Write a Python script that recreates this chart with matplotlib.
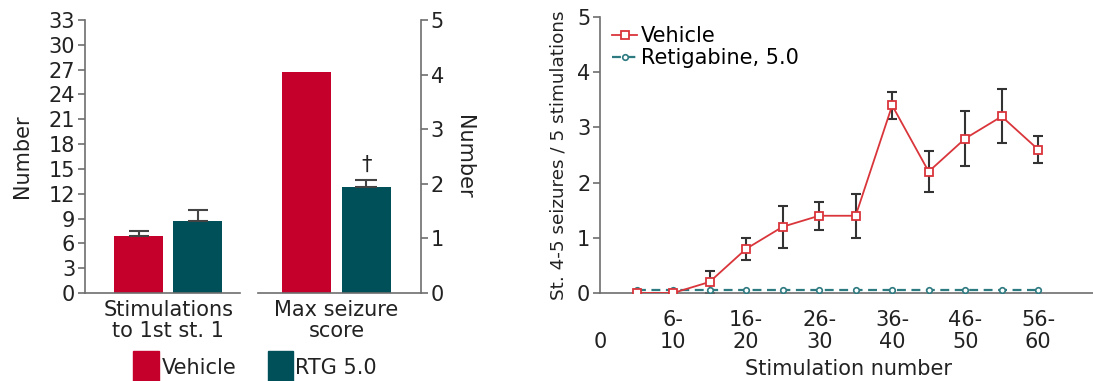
import matplotlib
matplotlib.use('Agg')
import matplotlib.pyplot as plt
from matplotlib.patches import Rectangle

plt.rcParams['font.family'] = ['DejaVu Sans']

# bar panel data
bar_groups = ['Stimulations\nto 1st st. 1', 'Max seizure\nscore']
stim_vals = [6.9, 8.7]
stim_errs = [0.6, 1.3]
score_vals = [4.05, 1.95]
score_errs = [0.0, 0.12]
bar_names = ['Vehicle', 'RTG 5.0']

# line panel data
stim_x = [1, 2, 3, 4, 5, 6, 7, 8, 9, 10, 11, 12]
vehicle_y = [0, 0, 0.2, 0.8, 1.2, 1.4, 1.4, 3.4, 2.2, 2.8, 3.2, 2.6]
vehicle_err = [0, 0, 0.2, 0.2, 0.38, 0.25, 0.4, 0.24, 0.37, 0.49, 0.49, 0.24]
rtg_y = [0.05] * 12
x_ticks = [0, 2, 4, 6, 8, 10, 12]
x_labels = ['\n0', '6-\n10', '16-\n20', '26-\n30', '36-\n40', '46-\n50', '56-\n60']

red_bar = '#c4002b'
teal_bar = '#00505a'
red_line = '#d9353a'
teal_line = '#2d7a80'
spine_col = '#6e6e6e'
txt = '#222222'
fs = 15

fig = plt.figure(figsize=(10.93, 3.81), dpi=100)

ax1 = fig.add_axes([0.0778, 0.231, 0.1418, 0.7165])
ax2 = fig.add_axes([0.236, 0.231, 0.149, 0.7165])
ax3 = fig.add_axes([0.549, 0.231, 0.455, 0.724])

cols = [red_bar, teal_bar]
for i in range(2):
    ax1.bar(i, stim_vals[i], width=0.83, color=cols[i])
    ax1.errorbar(i, stim_vals[i], yerr=[[0], [stim_errs[i]]], fmt='none',
                 ecolor='#444444', elinewidth=1.5, capsize=7, capthick=1.5)
    ax2.bar(i, score_vals[i], width=0.82, color=cols[i])
    if score_errs[i] > 0:
        ax2.errorbar(i, score_vals[i], yerr=[[0], [score_errs[i]]], fmt='none',
                     ecolor='#444444', elinewidth=1.5, capsize=8, capthick=1.5)

ax2.text(1, score_vals[1] + score_errs[1] + 0.1, '\u2020', ha='center',
         va='bottom', fontsize=fs, color=txt)

ax1.set_xlim(-0.91, 1.72)
ax1.set_ylim(0, 33)
ax1.set_yticks(range(0, 34, 3))
ax2.set_xlim(-0.81, 1.91)
ax2.set_ylim(0, 5)
ax2.set_yticks(range(0, 6))

for ax in (ax1, ax2):
    for s in ax.spines.values():
        s.set_color(spine_col)
        s.set_linewidth(1.2)
    ax.spines['top'].set_visible(False)
    ax.set_xticks([0.5])
    ax.tick_params(axis='x', length=0, pad=5, labelsize=fs, colors=txt)
    ax.tick_params(axis='y', direction='out', length=5, width=1.2,
                   color=spine_col, labelsize=fs, labelcolor=txt, pad=2)

ax1.spines['right'].set_visible(False)
ax1.set_xticklabels([bar_groups[0]], linespacing=1.05)
ax1.set_ylabel('Number', fontsize=fs, color=txt, labelpad=12)

ax2.spines['left'].set_visible(False)
ax2.yaxis.tick_right()
ax2.yaxis.set_label_position('right')
ax2.set_xticklabels([bar_groups[1]], linespacing=1.05)
ax2.set_ylabel('Number', fontsize=fs, color=txt, rotation=270, labelpad=22)

# legend squares for the bar panel
fig.patches.append(Rectangle((0.1217, 0.0), 0.0238, 0.079, color=red_bar,
                             transform=fig.transFigure, figure=fig))
fig.patches.append(Rectangle((0.2452, 0.0), 0.0229, 0.079, color=teal_bar,
                             transform=fig.transFigure, figure=fig))
fig.text(0.148, 0.035, bar_names[0], fontsize=fs, color=txt, va='center')
fig.text(0.270, 0.035, bar_names[1], fontsize=fs, color=txt, va='center')

# line panel
ax3.errorbar(stim_x, vehicle_y, yerr=vehicle_err, fmt='none', ecolor='#333333',
             elinewidth=1.5, capsize=3.8, capthick=1.5, zorder=2)
ax3.plot(stim_x, rtg_y, color=teal_line, linestyle=(0, (4, 2.5)), linewidth=1.6,
         marker='o', markersize=4, markerfacecolor='white',
         markeredgecolor=teal_line, markeredgewidth=1.2,
         label='Retigabine, 5.0', zorder=3)
ax3.plot(stim_x, vehicle_y, color=red_line, linewidth=1.3, marker='s',
         markersize=5.8, markerfacecolor='white', markeredgecolor=red_line,
         markeredgewidth=1.3, label='Vehicle', zorder=4)

ax3.set_xlim(0, 13.62)
ax3.set_ylim(0, 5)
ax3.set_yticks(range(0, 6))
ax3.set_xticks(x_ticks)
ax3.set_xticklabels(x_labels, linespacing=1.15)
for s in ax3.spines.values():
    s.set_color(spine_col)
    s.set_linewidth(1.2)
ax3.spines['top'].set_visible(False)
ax3.spines['right'].set_visible(False)
ax3.tick_params(axis='x', length=0, pad=12, labelsize=fs, colors=txt)
ax3.tick_params(axis='y', direction='out', length=5, width=1.2,
                color=spine_col, labelsize=fs, labelcolor=txt, pad=2)
ax3.set_ylabel('St. 4-5 seizures / 5 stimulations', fontsize=13.2,
               color=txt, labelpad=7)
ax3.set_xlabel('Stimulation number', fontsize=fs, color=txt, labelpad=5)

h, l = ax3.get_legend_handles_labels()
ax3.legend(h[::-1], l[::-1], loc='upper left', bbox_to_anchor=(-0.005, 1.02),
           frameon=False, fontsize=fs, handlelength=1.2, handletextpad=0.2,
           labelspacing=0.1, borderaxespad=0.3)

fig.savefig('out.png', dpi=100)
